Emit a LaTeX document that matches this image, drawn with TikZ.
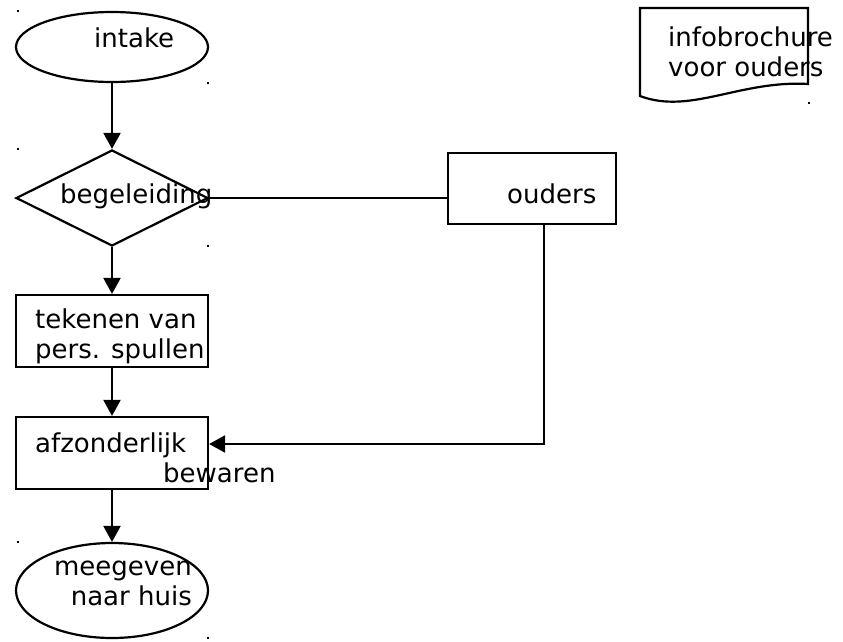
\documentclass[tikz,border=0pt]{standalone}
\usepackage{fontspec}
\setmainfont{DejaVu Sans}
\usetikzlibrary{arrows.meta,shapes.geometric}
\tikzset{
    shape box/.style = {
        draw,
        line width=2.2pt,
        inner sep=0pt,
        },
    terminal/.style = {
        shape box,
        ellipse,
        minimum width=192pt,
        },
    choice/.style = {
        shape box,
        diamond,
        minimum width=192pt,
        minimum height=96pt,
        },
    process/.style = {
        shape box,
        rectangle,
        },
    label text/.style = {
        inner sep=0pt,
        font=\fontsize{26}{30}\selectfont,
        },
    flow/.style = {
        line width=2.2pt,
        -{Triangle[length=16pt,width=17pt]},
        },
    plain/.style = {
        line width=2.2pt,
        },
    tick dot/.style = {
        fill=black,
        },
}
\begin{document}
\begin{tikzpicture}[x=1pt,y=-1pt]
    \useasboundingbox (0,0) rectangle (843,641);

    \node[terminal, minimum height=70pt] (intake) at (112,47) {};
    \node[choice] (begeleiding) at (112,198) {};
    \node[process, minimum width=168pt, minimum height=71pt] (ouders) at (532,188.5) {};
    \node[process, minimum width=192pt, minimum height=72pt] (tekenen) at (112,331) {};
    \node[process, minimum width=192pt, minimum height=72pt] (afzonderlijk) at (112,453) {};
    \node[terminal, minimum height=95pt] (meegeven) at (112,590.5) {};

    % document shape
    \draw[plain] (640,96) -- (640,8) -- (808,8) -- (808,84)
        .. controls (740,80) and (690,115) .. (640,96) -- cycle;

    \node[label text, anchor=base west] (t-intake) at (94,47) {intake};
    \node[label text, anchor=base west] (t-begeleiding) at (60,203) {begeleiding};
    \node[label text, anchor=base west] (t-ouders) at (507,203) {ouders};
    % multi-line texts: base is the last line
    \node[label text, anchor=base west, align=left] (t-tekenen) at (35,358) {tekenen van\\pers. spullen};
    \node[label text, anchor=base west, align=left] (t-afzonderlijk) at (35,482) {afzonderlijk\\\hspace*{128pt}bewaren};
    \node[label text, anchor=base east, align=right] (t-meegeven) at (192,605) {meegeven\\naar huis};
    \node[label text, anchor=base west, align=left] (t-info) at (668,76) {infobrochure\\voor ouders};

    \draw[flow] (intake) -- (begeleiding);
    \draw[plain] (begeleiding.east) -- (begeleiding.east -| ouders.west);
    \draw[flow] (begeleiding) -- (tekenen);
    \draw[flow] (tekenen) -- (afzonderlijk);
    \draw[flow] ([xshift=12pt]ouders.south) |- ([yshift=9pt]afzonderlijk.east);
    \draw[flow] (afzonderlijk) -- (meegeven);

    \foreach \x/\y in {17/10, 207/82, 17/148, 207/245, 17/541, 207/637, 808/102}
        \fill[tick dot] (\x,\y) rectangle ++(2,2);
\end{tikzpicture}
\end{document}
